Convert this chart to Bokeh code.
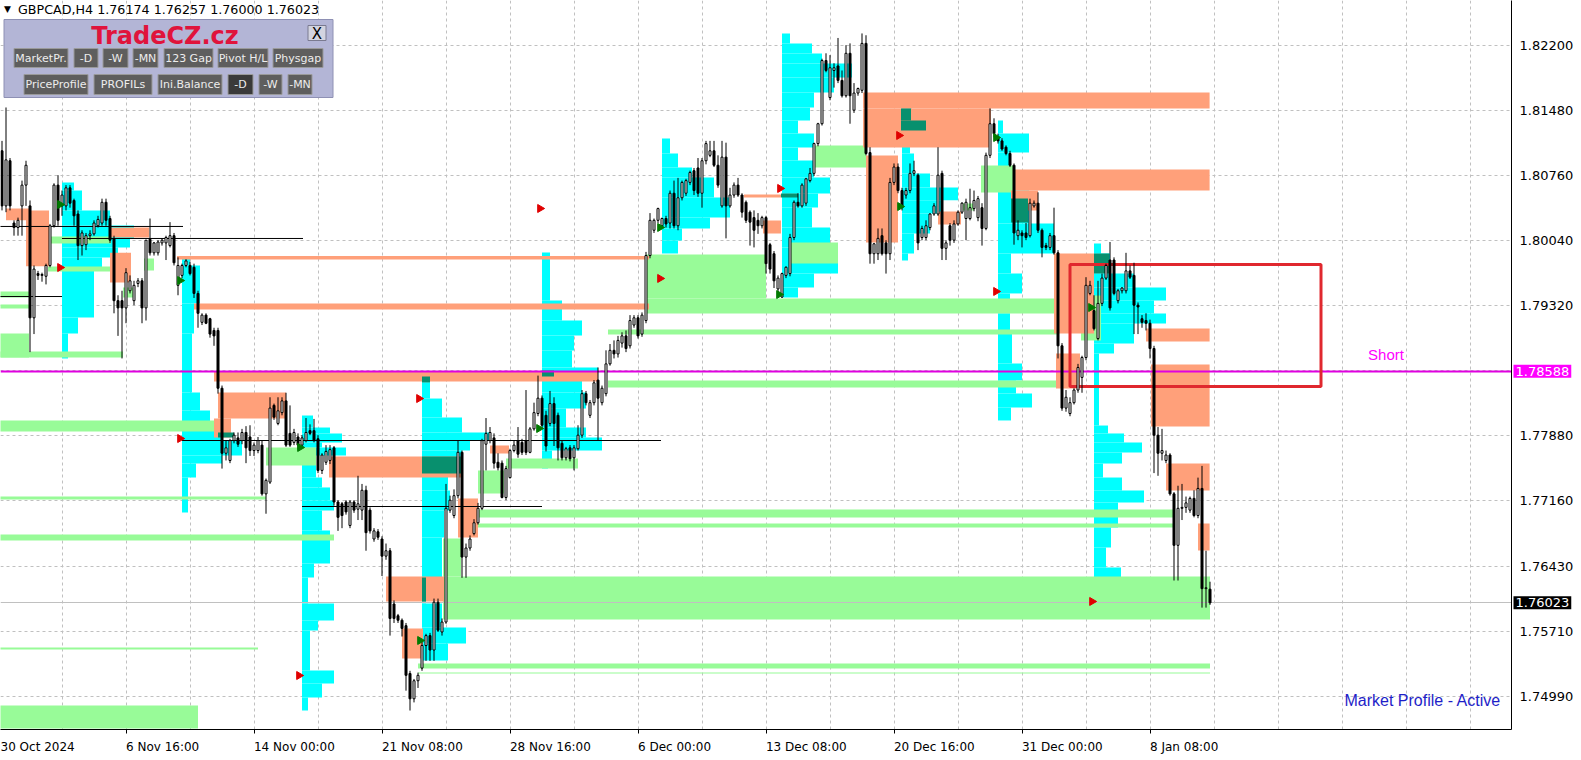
import numpy as np
from bokeh.plotting import figure
from bokeh.models import Range1d, FixedTicker, PrintfTickFormatter, Label
from bokeh.core.properties import value
from bokeh.embed import file_html
from bokeh.resources import INLINE

symbol = "GBPCAD,H4"
first_bar = 1

opens = [
1.8103,1.8042,1.8092,1.8023,1.8018,1.8042,1.8065,1.8042,1.7918,1.7967,
1.7965,1.7964,1.7976,1.8020,1.8065,1.8042,1.8042,1.8062,1.8048,1.8033,
1.7998,1.7999,1.8009,1.8011,1.8020,1.8023,1.8046,1.8028,1.8006,1.7937,
1.7937,1.7929,1.7948,1.7937,1.7956,1.7959,1.7929,1.8005,1.7990,1.7990,
1.8001,1.8001,1.7998,1.8009,1.7954,1.7965,1.7976,1.7976,1.7974,1.7945,
1.7913,1.7921,1.7917,1.7904,1.7904,1.7840,1.7768,1.7760,1.7782,1.7785,
1.7782,1.7791,1.7786,1.7771,1.7771,1.7777,1.7723,1.7736,1.7821,1.7801,
1.7813,1.7826,1.7790,1.7780,1.7786,1.7777,1.7782,1.7793,1.7793,1.7784,
1.7749,1.7758,1.7760,1.7774,1.7714,1.7712,1.7714,1.7688,1.7714,1.7706,
1.7705,1.7727,1.7705,1.7673,1.7681,1.7673,1.7654,1.7660,1.7601,1.7588,
1.7583,1.7577,1.7524,1.7496,1.7516,1.7530,1.7555,1.7566,1.7550,1.7603,
1.7570,1.7581,1.7705,1.7699,1.7721,1.7769,1.7653,1.7663,1.7679,1.7691,
1.7707,1.7778,1.7782,1.7785,1.7758,1.7757,1.7719,1.7741,1.7771,1.7782,
1.7780,1.7782,1.7769,1.7795,1.7812,1.7829,1.7810,1.7801,1.7823,1.7810,
1.7779,1.7763,1.7774,1.7763,1.7773,1.7788,1.7834,1.7810,1.7824,1.7849,
1.7824,1.7834,1.7867,1.7882,1.7878,1.7890,1.7898,1.7887,1.7910,1.7918,
1.7900,1.7915,1.7987,1.8015,1.8026,1.8020,1.8028,1.8023,1.8056,1.8020,
1.8051,1.8056,1.8068,1.8081,1.8084,1.8056,1.8092,1.8098,1.8103,1.8087,
1.8042,1.8096,1.8042,1.8054,1.8065,1.8054,1.8046,1.8035,1.8029,1.8026,
1.8020,1.8029,1.7999,1.7989,1.7950,1.7941,1.7965,1.7967,1.8007,1.8046,
1.8042,1.8045,1.8070,1.8078,1.8111,1.8133,1.8203,1.8162,1.8192,1.8197,
1.8181,1.8164,1.8211,1.8148,1.8167,1.8170,1.8222,1.8101,1.7989,1.7989,
1.8009,1.8001,1.7989,1.8068,1.8085,1.8059,1.8054,1.8059,1.8078,1.8076,
1.8007,1.8007,1.8018,1.8033,1.8033,1.8078,1.7995,1.8020,1.8004,1.8022,
1.8035,1.8028,1.8028,1.8039,1.8029,1.8040,1.8017,1.8098,1.8133,1.8118,
1.8114,1.8107,1.8100,1.8087,1.8009,1.8012,1.8012,1.8009,1.8042,1.8045,
1.8015,1.7998,1.7996,1.8009,1.7990,1.7887,1.7818,1.7812,1.7824,1.7838,
1.7852,1.7874,1.7945,1.7926,1.7895,1.7934,1.7962,1.7982,1.7982,1.7937,
1.7948,1.7948,1.7970,1.7965,1.7932,1.7917,1.7915,1.7912,1.7884,1.7788,
1.7768,1.7760,1.7766,1.7723,1.7666,1.7707,1.7708,1.7705,1.7718,1.7699,
1.7729,1.7618,1.76174]

highs = [
1.8114,1.8151,1.8095,1.8026,1.8029,1.8070,1.8092,1.8048,1.7976,1.7970,
1.7968,1.7978,1.8022,1.8067,1.8076,1.8059,1.8065,1.8065,1.8050,1.8037,
1.8015,1.8012,1.8015,1.8026,1.8031,1.8050,1.8050,1.8031,1.8009,1.7943,
1.7948,1.7973,1.7965,1.7959,1.7962,1.7962,1.8004,1.8028,1.8002,1.8004,
1.8006,1.8009,1.8024,1.8012,1.7985,1.7978,1.7983,1.7980,1.7978,1.7948,
1.7923,1.7923,1.7918,1.7907,1.7907,1.7843,1.7782,1.7784,1.7791,1.7791,
1.7795,1.7798,1.7799,1.7780,1.7786,1.7782,1.7740,1.7830,1.7823,1.7830,
1.7830,1.7835,1.7821,1.7795,1.7790,1.7788,1.7807,1.7800,1.7806,1.7788,
1.7768,1.7777,1.7777,1.7776,1.7716,1.7714,1.7716,1.7716,1.7716,1.7743,
1.7734,1.7732,1.7708,1.7685,1.7684,1.7676,1.7668,1.7663,1.7605,1.7590,
1.7585,1.7580,1.7527,1.7518,1.7525,1.7560,1.7568,1.7569,1.7607,1.7607,
1.7585,1.7734,1.7721,1.7728,1.7782,1.7771,1.7668,1.7677,1.7695,1.7713,
1.7784,1.7807,1.7797,1.7790,1.7768,1.7760,1.7754,1.7773,1.7782,1.7797,
1.7784,1.7838,1.7797,1.7824,1.7854,1.7832,1.7815,1.7837,1.7830,1.7813,
1.7782,1.7775,1.7777,1.7777,1.7799,1.7838,1.7837,1.7827,1.7849,1.7863,
1.7843,1.7882,1.7889,1.7893,1.7898,1.7902,1.7904,1.7921,1.7921,1.7921,
1.7924,1.7991,1.8034,1.8028,1.8040,1.8029,1.8031,1.8059,1.8070,1.8073,
1.8070,1.8072,1.8081,1.8084,1.8095,1.8095,1.8114,1.8114,1.8114,1.8098,
1.8114,1.8112,1.8062,1.8068,1.8073,1.8056,1.8048,1.8037,1.8037,1.8034,
1.8031,1.8031,1.8001,1.7992,1.7965,1.7968,1.7975,1.8011,1.8048,1.8056,
1.8067,1.8073,1.8084,1.8112,1.8134,1.8205,1.8211,1.8209,1.8200,1.8228,
1.8192,1.8220,1.8222,1.8178,1.8173,1.8233,1.8231,1.8107,1.8001,1.8017,
1.8017,1.8004,1.8073,1.8089,1.8089,1.8062,1.8062,1.8089,1.8092,1.8078,
1.8020,1.8026,1.8034,1.8045,1.8107,1.8081,1.8004,1.8023,1.8026,1.8037,
1.8046,1.8050,1.8061,1.8059,1.8053,1.8045,1.8101,1.8150,1.8139,1.8122,
1.8117,1.8109,1.8103,1.8089,1.8026,1.8015,1.8023,1.8050,1.8048,1.8057,
1.8017,1.8001,1.8012,1.8040,1.7993,1.7890,1.7838,1.7830,1.7840,1.7867,
1.7876,1.7963,1.7959,1.7943,1.7959,1.7967,1.7978,1.8002,1.7985,1.7950,
1.7952,1.7990,1.7976,1.7979,1.7935,1.7921,1.7923,1.7916,1.7887,1.7797,
1.7795,1.7771,1.7768,1.7725,1.7732,1.7734,1.7720,1.7720,1.7727,1.7741,
1.7754,1.7660,1.76257]

lows = [
1.8037,1.8035,1.8037,1.8009,1.8009,1.8009,1.8042,1.7880,1.7900,1.7960,
1.7958,1.7955,1.7974,1.8018,1.8020,1.8031,1.8037,1.8040,1.8020,1.7982,
1.7987,1.7993,1.8004,1.8009,1.8018,1.8020,1.8020,1.8001,1.7923,1.7898,
1.7873,1.7912,1.7945,1.7932,1.7952,1.7912,1.7915,1.7987,1.7987,1.7987,
1.7998,1.7982,1.7996,1.7976,1.7943,1.7962,1.7974,1.7965,1.7940,1.7907,
1.7910,1.7911,1.7896,1.7887,1.7834,1.7751,1.7760,1.7757,1.7779,1.7775,
1.7778,1.7757,1.7765,1.7765,1.7768,1.7721,1.7701,1.7734,1.7805,1.7799,
1.7810,1.7775,1.7775,1.7777,1.7772,1.7774,1.7780,1.7788,1.7780,1.7746,
1.7745,1.7755,1.7756,1.7710,1.7682,1.7685,1.7700,1.7685,1.7702,1.7694,
1.7694,1.7660,1.7679,1.7670,1.7672,1.7632,1.7650,1.7566,1.7580,1.7580,
1.7565,1.7505,1.7483,1.7492,1.7508,1.7527,1.7538,1.7538,1.7538,1.7570,
1.7566,1.7579,1.7702,1.7696,1.7718,1.7630,1.7630,1.7660,1.7677,1.7689,
1.7705,1.7749,1.7779,1.7751,1.7749,1.7718,1.7716,1.7740,1.7769,1.7763,
1.7766,1.7766,1.7768,1.7793,1.7809,1.7795,1.7770,1.7798,1.7776,1.7760,
1.7760,1.7760,1.7759,1.7749,1.7771,1.7785,1.7821,1.7807,1.7821,1.7782,
1.7821,1.7831,1.7865,1.7873,1.7874,1.7885,1.7880,1.7884,1.7907,1.7895,
1.7897,1.7912,1.7984,1.8012,1.8023,1.8018,1.8018,1.8017,1.8017,1.8015,
1.8048,1.8053,1.8065,1.8054,1.8052,1.8040,1.8088,1.8096,1.8085,1.8062,
1.8040,1.8006,1.8040,1.8051,1.8052,1.8029,1.8023,1.7998,1.7996,1.8011,
1.8017,1.7967,1.7967,1.7951,1.7943,1.7940,1.7962,1.7964,1.8004,1.8040,
1.8040,1.8042,1.8068,1.8075,1.8108,1.8131,1.8190,1.8159,1.8173,1.8178,
1.8162,1.8162,1.8133,1.8145,1.8164,1.8167,1.8098,1.7978,1.7978,1.7982,
1.7987,1.7967,1.7982,1.8065,1.8056,1.8037,1.8050,1.8056,1.8075,1.7993,
1.8004,1.8004,1.8015,1.8031,1.8031,1.7982,1.7982,1.7998,1.8001,1.8020,
1.8033,1.8004,1.8026,1.8036,1.8025,1.7998,1.8015,1.8095,1.8118,1.8111,
1.8103,1.8098,1.8085,1.7999,1.8004,1.7996,1.8004,1.8007,1.8040,1.8012,
1.7985,1.7993,1.7993,1.7988,1.7873,1.7815,1.7814,1.7809,1.7822,1.7835,
1.7835,1.7871,1.7943,1.7904,1.7893,1.7931,1.7960,1.7926,1.7943,1.7934,
1.7945,1.7945,1.7961,1.7900,1.7900,1.7907,1.7904,1.7873,1.7746,1.7743,
1.7760,1.7757,1.7721,1.7627,1.7627,1.7694,1.7702,1.7702,1.7697,1.7696,
1.7597,1.7597,1.76000]

closes = [
1.8042,1.8093,1.8042,1.8018,1.8026,1.8065,1.8087,1.7918,1.7972,1.7965,
1.7966,1.7976,1.8020,1.8065,1.8026,1.8054,1.8062,1.8045,1.8031,1.7998,
1.8012,1.8009,1.8011,1.8023,1.8027,1.8046,1.8026,1.8004,1.7937,1.7929,
1.7929,1.7968,1.7959,1.7954,1.7959,1.7929,1.8004,1.7990,1.8001,1.8002,
1.8004,1.8007,1.8009,1.7979,1.7976,1.7976,1.7981,1.7967,1.7945,1.7923,
1.7921,1.7912,1.7900,1.7898,1.7840,1.7768,1.7774,1.7782,1.7788,1.7778,
1.7791,1.7774,1.7771,1.7777,1.7782,1.7723,1.7738,1.7818,1.7808,1.7815,
1.7826,1.7777,1.7777,1.7791,1.7777,1.7785,1.7791,1.7790,1.7782,1.7749,
1.7766,1.7770,1.7772,1.7714,1.7697,1.7699,1.7703,1.7714,1.7705,1.7712,
1.7727,1.7680,1.7682,1.7682,1.7675,1.7654,1.7660,1.7585,1.7585,1.7583,
1.7574,1.7522,1.7496,1.7516,1.7522,1.7555,1.7566,1.7550,1.7603,1.7572,
1.7581,1.7707,1.7716,1.7721,1.7769,1.7653,1.7663,1.7673,1.7691,1.7707,
1.7782,1.7790,1.7791,1.7757,1.7752,1.7719,1.7751,1.7771,1.7777,1.7767,
1.7769,1.7769,1.7795,1.7813,1.7829,1.7799,1.7776,1.7823,1.7801,1.7774,
1.7763,1.7773,1.7762,1.7774,1.7788,1.7834,1.7824,1.7824,1.7846,1.7829,
1.7840,1.7867,1.7882,1.7878,1.7893,1.7898,1.7884,1.7915,1.7918,1.7898,
1.7921,1.7987,1.8026,1.8026,1.8039,1.8028,1.8022,1.8056,1.8020,1.8051,
1.8068,1.8070,1.8079,1.8059,1.8056,1.8092,1.8111,1.8103,1.8087,1.8065,
1.8096,1.8042,1.8054,1.8065,1.8054,1.8035,1.8026,1.8024,1.8015,1.8020,
1.8029,1.7978,1.7972,1.7959,1.7962,1.7967,1.7974,1.8007,1.8046,1.8042,
1.8065,1.8072,1.8078,1.8111,1.8133,1.8203,1.8192,1.8195,1.8195,1.8181,
1.8164,1.8211,1.8164,1.8167,1.8172,1.8222,1.8100,1.7989,1.8000,1.8006,
1.7989,1.7989,1.8068,1.8085,1.8059,1.8040,1.8059,1.8078,1.8081,1.8001,
1.8017,1.8020,1.8033,1.8042,1.8076,1.7995,1.8001,1.8004,1.8022,1.8035,
1.8045,1.8046,1.8040,1.8048,1.8050,1.8017,1.8098,1.8133,1.8122,1.8114,
1.8105,1.8100,1.8087,1.8012,1.8015,1.8009,1.8007,1.8045,1.8045,1.8015,
1.7996,1.7996,1.8009,1.7990,1.7887,1.7818,1.7830,1.7824,1.7838,1.7863,
1.7874,1.7954,1.7954,1.7906,1.7934,1.7962,1.7976,1.7929,1.7945,1.7948,
1.7951,1.7970,1.7963,1.7932,1.7930,1.7913,1.7912,1.7884,1.7788,1.7768,
1.7771,1.7766,1.7723,1.7666,1.7707,1.7708,1.7713,1.7718,1.7699,1.7729,
1.7618,1.7619,1.76023]

# time axis (bar index) labels and price axis ticks
date_tick_bars = [0, 32, 64, 96, 128, 160, 192, 224, 256, 288]
date_tick_labels = ["30 Oct 2024", "6 Nov 16:00", "14 Nov 00:00", "21 Nov 08:00", "28 Nov 16:00",
                    "6 Dec 00:00", "13 Dec 08:00", "20 Dec 16:00", "31 Dec 00:00", "8 Jan 08:00"]
price_ticks = [1.8220, 1.8148, 1.8076, 1.8004, 1.7932, 1.7788, 1.7716, 1.7643, 1.7571, 1.7499]
price_grid = price_ticks + [1.7860]
short_level = 1.78588

# zones: (bar from, bar to, price top, price bottom)
supply_zones = [
    (2, 7.75, 1.8039, 1.8026), (7, 12.75, 1.8037, 1.7975), (28.25, 37.75, 1.8018, 1.8007),
    (28, 33.25, 1.7990, 1.7957), (44.75, 162.75, 1.79865, 1.79826), (49, 162.75, 1.79339, 1.79272),
    (54, 150, 1.78585, 1.78475), (55, 72, 1.78353, 1.78065), (54, 58.25, 1.78065, 1.77854),
    (82.75, 115.75, 1.77644, 1.77411), (115, 120, 1.77179, 1.76747), (97, 111.5, 1.76315, 1.76038),
    (101, 106.25, 1.75739, 1.75407), (123, 127.75, 1.77766, 1.77677), (191.25, 195.75, 1.80258, 1.80114),
    (186.5, 195.75, 1.80546, 1.80513), (216.25, 302.9, 1.81676, 1.81499), (216.25, 248.25, 1.81499, 1.81067),
    (217, 225, 1.80978, 1.80014), (235, 240.75, 1.80358, 1.80214), (254, 302.9, 1.80823, 1.80590),
    (253.25, 260, 1.80590, 1.80369), (264, 274, 1.79893, 1.79006), (264.5, 270.5, 1.78785, 1.78397),
    (287, 302.9, 1.79062, 1.78918), (288.25, 302.9, 1.78663, 1.77976), (292, 302.9, 1.77566, 1.77267),
    (300, 302.9, 1.76902, 1.76603),
]
demand_zones = [
    (0, 7.75, 1.79006, 1.78740), (0, 31.25, 1.78807, 1.78740), (0, 7.75, 1.79472, 1.79405),
    (0, 7.75, 1.79328, 1.79283), (12, 28.25, 1.80081, 1.80003), (12.5, 28.25, 1.79749, 1.79693),
    (36.5, 39, 1.79837, 1.79704), (31.25, 33.75, 1.79516, 1.79405), (0, 55, 1.78043, 1.77921),
    (0, 67, 1.77201, 1.77168), (0, 84, 1.76780, 1.76713), (0, 65, 1.75528, 1.75506),
    (0, 50, 1.74886, 1.74631), (67, 79.5, 1.77744, 1.77544), (120, 126.5, 1.77489, 1.77234),
    (120, 293.75, 1.77057, 1.76968), (120, 293.75, 1.76902, 1.76857), (111.25, 303, 1.76315, 1.75838),
    (111.25, 115.75, 1.76736, 1.76315), (105, 303, 1.75351, 1.75295), (105, 303, 1.75251, 1.75240),
    (127, 145, 1.77622, 1.77511), (152.5, 265, 1.78486, 1.78408), (162, 265, 1.79394, 1.79228),
    (162, 192, 1.79881, 1.79394), (198.25, 210, 1.80014, 1.79782), (204, 217, 1.81089, 1.80845),
    (245.75, 253.75, 1.80867, 1.80568), (152.5, 265, 1.79051, 1.78995), (270.75, 275.75, 1.79427, 1.78929),
    (240.75, 244, 1.80446, 1.80369),
]
overlap_zones = [
    (106, 108, 1.78530, 1.78464), (106, 115.75, 1.77644, 1.77456), (106, 107, 1.76304, 1.76038),
    (225.75, 228.25, 1.81499, 1.81366), (225.75, 232, 1.81366, 1.81255), (274, 277.75, 1.79893, 1.79671),
    (253.25, 257.5, 1.80502, 1.80236), (195.75, 200, 1.80557, 1.80513), (55, 59, 1.77910, 1.77854),
    (136, 139, 1.78597, 1.78530),
]
# horizontal levels: (bar from, bar to, price)
level_lines = [(0, 46.25, 1.80192), (16, 76.25, 1.80059), (0, 16, 1.79416),
               (46, 165.75, 1.77821), (76, 136, 1.77090)]

# weekly market profiles: start bar, price boundaries, counts (in bars)
profile_start = [16, 46, 76, 106, 136, 166, 196, 226, 250, 274]
profile_levels = [
    [1.80679, 1.80590, 1.80369, 1.80203, 1.80059, 1.79959, 1.79848, 1.79737, 1.79184, 1.79006, 1.78729],
    [1.79837, 1.79760, 1.79339, 1.79006, 1.78353, 1.78154, 1.78009, 1.77821, 1.77655, 1.77566, 1.77411, 1.77024],
    [1.78098, 1.77965, 1.77899, 1.77799, 1.77744, 1.77655, 1.77411, 1.77301, 1.77157, 1.77046, 1.76824,
     1.76459, 1.76304, 1.76016, 1.75827, 1.75717, 1.75274, 1.75130, 1.74974, 1.74831],
    [1.78530, 1.78464, 1.78286, 1.78076, 1.77910, 1.77821, 1.77710, 1.77456, 1.77267, 1.77046, 1.76747,
     1.76304, 1.76016, 1.75750, 1.75573, 1.75385],
    [1.79904, 1.79372, 1.79150, 1.78984, 1.78818, 1.78630, 1.78519, 1.78353, 1.78176, 1.77965, 1.77854,
     1.77710, 1.77599, 1.77511],
    [1.81166, 1.81000, 1.80845, 1.80734, 1.80513, 1.80291, 1.80169, 1.80037, 1.79893],
    [1.82329, 1.82219, 1.82108, 1.81997, 1.81842, 1.81676, 1.81510, 1.81366, 1.81222, 1.81067, 1.80923,
     1.80734, 1.80557, 1.80402, 1.80181, 1.79959, 1.79671, 1.79516, 1.79405],
    [1.81499, 1.81366, 1.81255, 1.81000, 1.80779, 1.80624, 1.80481, 1.80336, 1.80115, 1.79893, 1.79815],
    [1.81366, 1.81222, 1.81011, 1.80590, 1.80225, 1.79893, 1.79671, 1.79450, 1.79228, 1.79006, 1.78674,
     1.78486, 1.78342, 1.78187, 1.78043],
    [1.80003, 1.79893, 1.79671, 1.79516, 1.79372, 1.79228, 1.79117, 1.78896, 1.78785, 1.77987, 1.77899,
     1.77799, 1.77688, 1.77566, 1.77411, 1.77267, 1.77134, 1.76857, 1.76636, 1.76414, 1.76304, 1.76160, 1.75971],
]
profile_counts = [
    [3, 5, 12, 18, 17, 14, 10, 8, 4, 1.5],
    [2, 4.5, 3, 2.5, 4.5, 7, 10, 15, 10, 3.5, 1.5],
    [2.75, 7, 10, 5, 11, 3.5, 5, 7, 8, 5, 7, 3, 1.5, 8, 4, 2, 8, 5, 1.5],
    [2, 2, 5, 10, 17, 12, 10, 6.5, 7, 5.5, 5, 1, 5, 11, 6.5],
    [2, 5, 10, 8, 7.5, 14, 10, 11, 6, 11, 15, 2.5, 1.5],
    [2, 4, 7.5, 13, 17, 12, 5, 4],
    [2, 7.5, 10, 17.5, 13, 8, 7, 4, 8, 4, 8, 12, 9, 7.5, 12, 14, 8, 4],
    [2.5, 6, 2, 3, 7, 14, 10, 7, 3, 1.5],
    [1.25, 7.75, 3.25, 7.75, 14, 3.25, 6, 3, 3, 3.5, 6, 4.5, 8.5, 3.25],
    [1.75, 4, 10, 18, 15, 18, 10, 5, 1.25, 3.5, 7.5, 12, 7, 2.25, 7, 12.5, 6, 4.25, 3, 6.75, 11, 5],
]
sell_arrow_bars = [15.5, 45.5, 75.25, 105.25, 135.5, 165.5, 195.5, 225.25, 249.5, 273.5]
sell_arrow_prices = [1.79737, 1.77843, 1.75218, 1.78286, 1.80391, 1.79616, 1.80613, 1.81200, 1.79472, 1.76038]
buy_arrow_bars = [15.5, 45.5, 75.5, 105.5, 135.25, 165.5, 195.25, 225.5, 249.5, 273.25]
buy_arrow_prices = [1.80435, 1.79593, 1.77744, 1.75606, 1.77954, 1.80181, 1.79438, 1.80413, 1.81177, 1.79294]
short_box = (268, 330.75, 1.79771, 1.78419)
short_text_pos = (347, 1.78774)

buttons_row1 = ["MarketPr.", "-D", "-W", "-MN", "123 Gap", "Pivot H/L", "Physgap"]
buttons_row2 = ["PriceProfile", "PROFILs", "Ini.Balance", "-D", "-W", "-MN"]

# ---------------------------------------------------------------- layout helpers (screen pixels of the chart)
PX_PER_BAR = 4.0
PRICE_PER_PX = 0.00011077
PRICE_AT_TOP = 1.82695
FONT = "DejaVu Sans"
AXIS_PX = 12
# approximate advance widths (em) of DejaVu Sans, used to left-align time labels on their ticks
EM = {" ": .318, ":": .337, ".": .318, "N": .748, "o": .612, "v": .592, "D": .770, "e": .615, "c": .550,
      "J": .295, "a": .613, "n": .634, "O": .787, "t": .392}


def text_px(s, size):
    return sum(EM.get(ch, .636) for ch in s) * size


def chart_x(px):
    return (px + 3) / PX_PER_BAR


def chart_y(py):
    return PRICE_AT_TOP - py * PRICE_PER_PX


n = min(len(opens), len(highs), len(lows), len(closes))
o = np.array(opens[:n]); h = np.array(highs[:n]); l = np.array(lows[:n]); c = np.array(closes[:n])
bars = np.arange(first_bar, first_bar + n)

SHIFT = 0.125  # half a pixel, for crisp 1px lines
p = figure(frame_width=1511, frame_height=729, title=None,
           x_range=Range1d(chart_x(0) - SHIFT, chart_x(1511) - SHIFT),
           y_range=Range1d(chart_y(729), chart_y(0)),
           output_backend="svg", toolbar_location=None, y_axis_location="right",
           min_border_left=0, min_border_top=0, min_border_right=70, min_border_bottom=31)
p.outline_line_color = None
p.background_fill_color = "white"
p.border_fill_color = "white"

# grid
p.xgrid.ticker = FixedTicker(ticks=list(range(16, 400, 16)))
p.ygrid.ticker = FixedTicker(ticks=price_grid)
for g in (p.xgrid, p.ygrid):
    g.grid_line_color = "#C0C0C0"
    g.grid_line_dash = "3 3"
    g.grid_line_width = 1

# time axis: labels start at their tick (MT4 style)
label_pos = [b + text_px(t, AXIS_PX) / 2 / PX_PER_BAR for b, t in zip(date_tick_bars, date_tick_labels)]
xa = p.xaxis[0]
xa.ticker = FixedTicker(ticks=label_pos, minor_ticks=date_tick_bars)
xa.major_label_overrides = {lp: t for lp, t in zip(label_pos, date_tick_labels)}
xa.major_label_text_font = FONT
xa.major_label_text_font_size = f"{AXIS_PX}px"
xa.major_label_text_color = "black"
xa.major_label_standoff = 6
xa.major_tick_in = 0
xa.major_tick_out = 0
xa.minor_tick_in = 0
xa.minor_tick_out = 4
xa.minor_tick_line_color = "black"
xa.axis_line_color = "black"

ya = p.yaxis[0]
ya.ticker = FixedTicker(ticks=price_ticks)
ya.formatter = PrintfTickFormatter(format="%.5f")
ya.major_label_text_font = FONT
ya.major_label_text_font_size = "13px"
ya.major_label_text_color = "black"
ya.major_label_standoff = 8
ya.major_tick_in = 0
ya.major_tick_out = 0
ya.minor_tick_line_color = None
ya.axis_line_color = "black"

# profiles
pl, pr, pt, pb = [], [], [], []
for s, lv, cnt in zip(profile_start, profile_levels, profile_counts):
    for i, k in enumerate(cnt):
        pl.append(s); pr.append(s + k); pt.append(lv[i]); pb.append(lv[i + 1])
p.quad(left=pl, right=pr, top=pt, bottom=pb, fill_color="#00FFFF", line_color=None)


def zone_quads(zones, color):
    p.quad(left=[z[0] for z in zones], right=[z[1] for z in zones],
           top=[z[2] for z in zones], bottom=[z[3] for z in zones],
           fill_color=color, line_color=None)


zone_quads(demand_zones, "#98FB98")
zone_quads(supply_zones, "#FFA07A")
zone_quads(overlap_zones, "#08906E")

# level lines
p.segment(x0=[z[0] for z in level_lines], x1=[z[1] for z in level_lines],
          y0=[z[2] for z in level_lines], y1=[z[2] for z in level_lines],
          line_color="black", line_width=1)

# short level and current price
p.hspan(y=[short_level], line_color="#E000E0", line_width=2)
p.hspan(y=[c[-1]], line_color="#C0C0C0", line_width=1)

# short box
p.quad(left=[short_box[0]], right=[short_box[1]], top=[short_box[2]], bottom=[short_box[3]],
       fill_color=None, line_color="#E0282E", line_width=3)

# candles
p.segment(x0=bars, x1=bars, y0=l, y1=h, line_color="black", line_width=1)
up = c >= o
dn = ~up
p.vbar(x=bars[up], width=0.5, top=c[up], bottom=o[up], fill_color="white", line_color="black", line_width=1)
p.vbar(x=bars[dn], width=0.5, top=o[dn], bottom=c[dn], fill_color="black", line_color="black", line_width=1)

# arrows
p.scatter(x=sell_arrow_bars, y=sell_arrow_prices, marker="triangle", angle=-np.pi / 2, size=8,
          fill_color="#E00000", line_color="#E00000")
p.scatter(x=buy_arrow_bars, y=buy_arrow_prices, marker="triangle", angle=-np.pi / 2, size=8,
          fill_color="#007A00", line_color="#007A00")

# short text
p.text(x=[short_text_pos[0]], y=[short_text_pos[1]], text=["Short"], text_color="#FF00FF",
       text_font=value("Liberation Sans"), text_font_size="15px", text_align="center", text_baseline="middle")

# Market Profile status
p.text(x=[chart_x(1500)], y=[chart_y(700)], text=["Market Profile - Active"], text_color="#1E1EC8",
       text_font=value("Liberation Sans"), text_font_size="16px", text_align="right", text_baseline="middle")

# header
p.text(x=[chart_x(3)], y=[chart_y(8)], text=["\u25BC"], text_color="black",
       text_font=value(FONT), text_font_size="9px", text_align="left", text_baseline="middle")
header = f"{symbol}  {o[-1]:.5f} {h[-1]:.5f} {l[-1]:.5f} {c[-1]:.5f}"
p.text(x=[chart_x(17)], y=[chart_y(9)], text=[header], text_color="black",
       text_font=value(FONT), text_font_size="12.7px", text_align="left", text_baseline="middle")

# control panel
p.quad(left=[chart_x(3)], right=[chart_x(332)], top=[chart_y(19)], bottom=[chart_y(97)],
       fill_color="#B3B5D6", line_color="#8E90B4", line_width=1)
p.text(x=[chart_x(164)], y=[chart_y(35)], text=["TradeCZ.cz"], text_color="#E0143C",
       text_font=value(FONT), text_font_size="24px", text_font_style="bold",
       text_align="center", text_baseline="middle")
p.quad(left=[chart_x(307)], right=[chart_x(325)], top=[chart_y(25)], bottom=[chart_y(40)],
       fill_color="#D3D4E0", line_color="#7A7A90")
p.text(x=[chart_x(316)], y=[chart_y(33)], text=["X"], text_color="black",
       text_font=value(FONT), text_font_size="15px", text_align="center", text_baseline="middle")

row1_px = [(13, 67), (73, 97), (102, 127), (132, 157), (163, 212), (217, 267), (272, 322)]
row2_px = [(23, 87), (93, 151), (157, 221), (227, 252), (258, 281), (287, 311)]
bl, br, bt, bb, bf, tx, ty, tt = [], [], [], [], [], [], [], []
for (x0, x1), lab in zip(row1_px, buttons_row1):
    bl.append(chart_x(x0)); br.append(chart_x(x1)); bt.append(chart_y(48)); bb.append(chart_y(67))
    bf.append("#5E5E5E"); tx.append(chart_x((x0 + x1) / 2)); ty.append(chart_y(58)); tt.append(lab)
for j, ((x0, x1), lab) in enumerate(zip(row2_px, buttons_row2)):
    bl.append(chart_x(x0)); br.append(chart_x(x1)); bt.append(chart_y(74)); bb.append(chart_y(94))
    bf.append("#3A3A3A" if j == 3 else "#5E5E5E"); tx.append(chart_x((x0 + x1) / 2)); ty.append(chart_y(84)); tt.append(lab)
p.quad(left=bl, right=br, top=bt, bottom=bb, fill_color=bf, line_color="#9A9A9A", line_width=1)
p.text(x=tx, y=ty, text=tt, text_color="#EDEDED", text_font=value(FONT), text_font_size="11px",
       text_align="center", text_baseline="middle")

# price tags on the price axis (placed in the right side panel so they are not clipped by the frame)
for lvl, bg in ((short_level, "#FF00FF"), (float(c[-1]), "black")):
    p.add_layout(Label(x=chart_x(1513) - SHIFT, y=lvl, text=f"{lvl:.5f}", text_color="white",
                       text_font=FONT, text_font_size="13px", text_align="left", text_baseline="middle",
                       background_fill_color=bg, padding=2), "right")

open("out.html", "w").write(file_html(p, INLINE))
